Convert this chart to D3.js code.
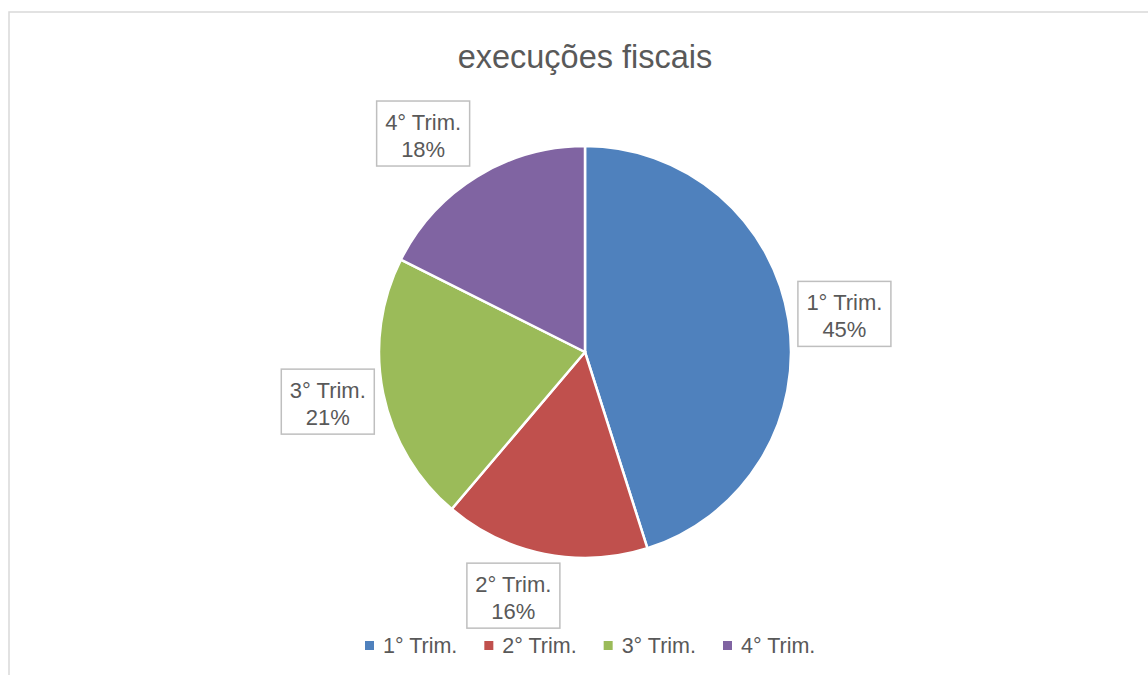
<!DOCTYPE html>
<html>
<head>
<meta charset="utf-8">
<script src="https://cdn.jsdelivr.net/npm/d3@7"></script>
<style>
  body { margin: 0; background: #fff; }
  svg text { font-family: "Liberation Sans", Arial, sans-serif; fill: #595959; }
</style>
</head>
<body>
<svg id="chart" width="1148" height="675"></svg>
<script>
// dados
var categorias = ["1° Trim.", "2° Trim.", "3° Trim.", "4° Trim."];
var valores = [45.1, 16.1, 21.2, 17.6];
var cores = ["#4f81bd", "#c0504d", "#9bbb59", "#8064a2"];
var titulo = "execuções fiscais";

var width = 1148, height = 675;
var cx = 585, cy = 352, raio = 206;

var svg = d3.select("#chart");

// moldura do grafico
svg.append("rect")
    .attr("x", 9).attr("y", 12)
    .attr("width", 1160).attr("height", 700)
    .attr("fill", "#fff")
    .attr("stroke", "#d9d9d9")
    .attr("stroke-width", 1.5);

svg.append("text")
    .attr("x", cx).attr("y", 68)
    .attr("text-anchor", "middle")
    .style("font-size", "32.5px")
    .text(titulo);

var dados = categorias.map(function(c, i) {
    return {nome: c, valor: valores[i], cor: cores[i]};
});

var pie = d3.pie().sort(null).value(function(d) { return d.valor; });
var arc = d3.arc().innerRadius(0).outerRadius(raio);
var arcos = pie(dados);
var total = d3.sum(valores);

var g = svg.append("g").attr("transform", "translate(" + cx + "," + cy + ")");

g.selectAll("path")
    .data(arcos)
    .enter()
    .append("path")
    .attr("d", arc)
    .attr("fill", function(d) { return d.data.cor; })
    .attr("stroke", "#fff")
    .attr("stroke-width", 2.5);

// rotulos (caixas fora da pizza)
var boxW = 93, boxH = 65;
var ajuste = [[0, 0], [-20, 0], [0, 0], [-24, -7]]; // TODO melhorar posicionamento

var rotulos = g.selectAll("g.rotulo")
    .data(arcos)
    .enter()
    .append("g")
    .attr("class", "rotulo")
    .attr("transform", function(d, i) {
        var a = (d.startAngle + d.endAngle) / 2;
        var s = Math.sin(a), c = -Math.cos(a);
        var x = s * (raio + 10) + s * boxW / 2 + ajuste[i][0];
        var y = c * (raio + 10) + c * boxH / 2 + ajuste[i][1];
        return "translate(" + x + "," + y + ")";
    });

rotulos.append("rect")
    .attr("x", -boxW / 2).attr("y", -boxH / 2)
    .attr("width", boxW).attr("height", boxH)
    .attr("fill", "#fff")
    .attr("stroke", "#bfbfbf")
    .attr("stroke-width", 1.5);

rotulos.append("text")
    .attr("text-anchor", "middle")
    .attr("y", -4)
    .style("font-size", "22px")
    .text(function(d) { return d.data.nome; });

rotulos.append("text")
    .attr("text-anchor", "middle")
    .attr("y", 23)
    .style("font-size", "22px")
    .text(function(d) { return Math.round(d.data.valor / total * 100) + "%"; });

// legenda
var legX = d3.scalePoint().domain(categorias).range([365, 723]);

var leg = svg.append("g").selectAll("g")
    .data(dados)
    .enter()
    .append("g")
    .attr("transform", function(d) { return "translate(" + legX(d.nome) + ",641)"; });

leg.append("rect")
    .attr("width", 9).attr("height", 9)
    .attr("fill", function(d) { return d.cor; });

leg.append("text")
    .attr("x", 18).attr("y", 12)
    .style("font-size", "21.5px")
    .text(function(d) { return d.nome; });
</script>
</body>
</html>
